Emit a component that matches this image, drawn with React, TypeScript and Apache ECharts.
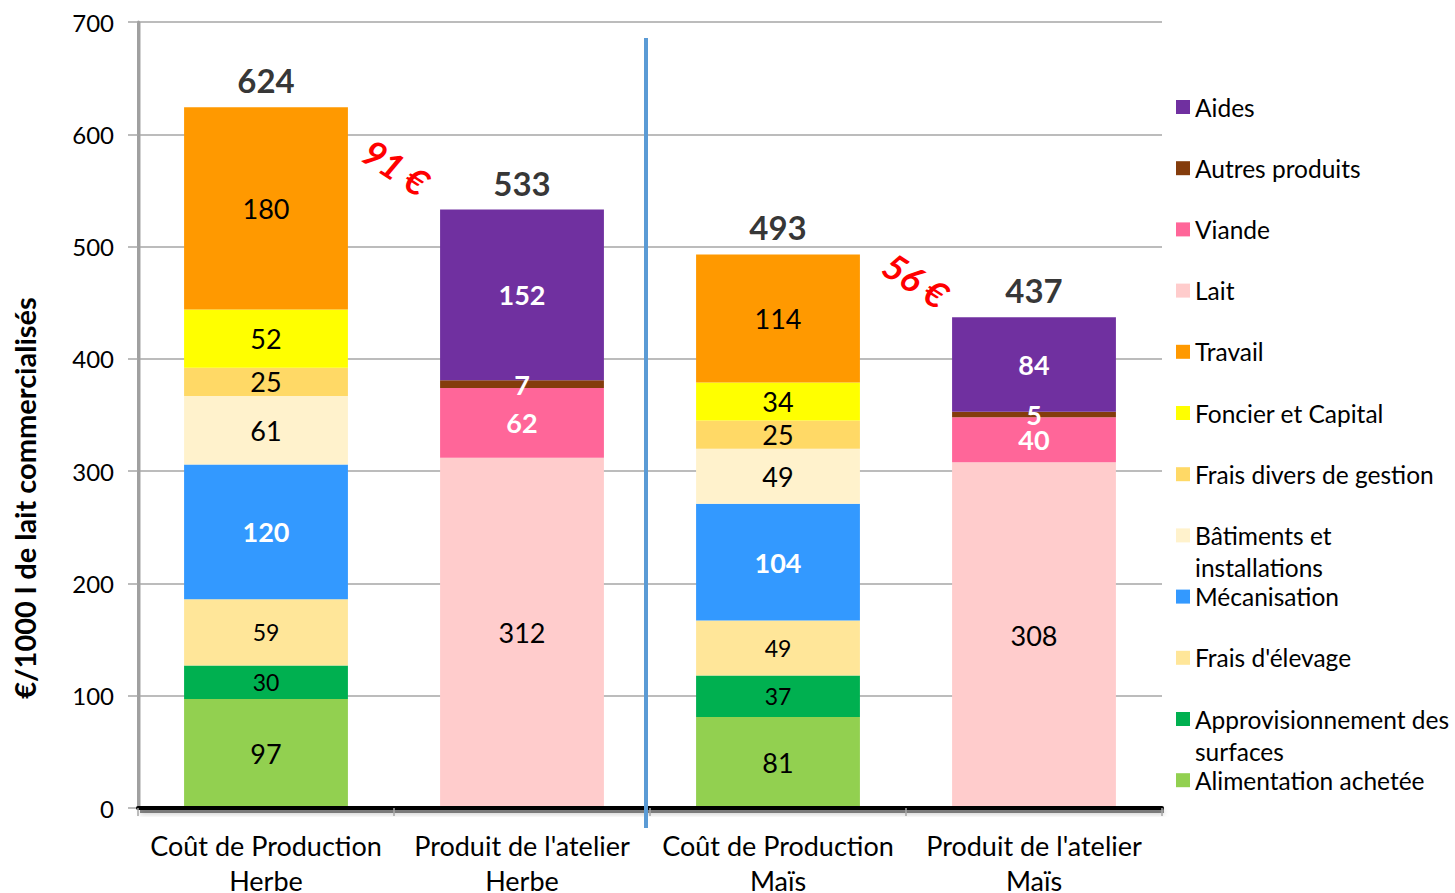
import React, { useEffect, useRef } from "react";
import * as echarts from "echarts";

const FONT = "Lato, 'Open Sans', sans-serif";

const categories = [
  "Coût de Production\nHerbe",
  "Produit de l'atelier\nHerbe",
  "Coût de Production\nMaïs",
  "Produit de l'atelier\nMaïs",
];

// stack order bottom -> top
const alimentation = [97, "-", 81, "-"];
const approvisionnement = [30, "-", 37, "-"];
const fraisElevage = [59, "-", 49, "-"];
const mecanisation = [120, "-", 104, "-"];
const batiments = [61, "-", 49, "-"];
const fraisDivers = [25, "-", 25, "-"];
const foncier = [52, "-", 34, "-"];
const travail = [180, "-", 114, "-"];
const lait = ["-", 312, "-", 308];
const viande = ["-", 62, "-", 40];
const autresProduits = ["-", 7, "-", 5];
const aides = ["-", 152, "-", 84];

const totals = [624, 533, 493, 437];

const yTicks = { min: 0, max: 700, interval: 100 };

const annotations = [
  { text: "91 €", x: 396, y: 167 },
  { text: "56 €", x: 916, y: 280 },
];

type S = {
  name: string;
  data: (number | string)[];
  color: string;
  labelColor: string;
  bold: boolean;
  small: boolean;
};

const seriesDefs: S[] = [
  { name: "Alimentation achetée", data: alimentation, color: "#92D050", labelColor: "#000", bold: false, small: false },
  { name: "Approvisionnement des surfaces", data: approvisionnement, color: "#00B050", labelColor: "#000", bold: false, small: true },
  { name: "Frais d'élevage", data: fraisElevage, color: "#FFE699", labelColor: "#000", bold: false, small: true },
  { name: "Mécanisation", data: mecanisation, color: "#3399FF", labelColor: "#fff", bold: true, small: false },
  { name: "Bâtiments et installations", data: batiments, color: "#FFF2CC", labelColor: "#000", bold: false, small: false },
  { name: "Frais divers de gestion", data: fraisDivers, color: "#FFD966", labelColor: "#000", bold: false, small: false },
  { name: "Foncier et Capital", data: foncier, color: "#FFFF00", labelColor: "#000", bold: false, small: false },
  { name: "Travail", data: travail, color: "#FF9900", labelColor: "#000", bold: false, small: false },
  { name: "Lait", data: lait, color: "#FFCCCC", labelColor: "#000", bold: false, small: false },
  { name: "Viande", data: viande, color: "#FF6699", labelColor: "#fff", bold: true, small: false },
  { name: "Autres produits", data: autresProduits, color: "#843C0C", labelColor: "#fff", bold: true, small: false },
  { name: "Aides", data: aides, color: "#7030A0", labelColor: "#fff", bold: true, small: false },
];

const legendOrder = [
  "Aides",
  "Autres produits",
  "Viande",
  "Lait",
  "Travail",
  "Foncier et Capital",
  "Frais divers de gestion",
  "Bâtiments et installations",
  "Mécanisation",
  "Frais d'élevage",
  "Approvisionnement des surfaces",
  "Alimentation achetée",
];

const legendBreaks: Record<string, string> = {
  "Bâtiments et installations": "\nBâtiments et\ninstallations",
  "Approvisionnement des surfaces": "\nApprovisionnement des\nsurfaces",
};

export default function App() {
  const ref = useRef<HTMLDivElement>(null);

  useEffect(() => {
    if (!ref.current) return;
    const chart = echarts.init(ref.current, undefined, { renderer: "svg" });

    const barSeries = seriesDefs.map((s) => ({
      name: s.name,
      type: "bar",
      stack: "total",
      barWidth: "64%",
      data: s.data,
      itemStyle: { color: s.color },
      label: {
        show: true,
        position: "inside",
        color: s.labelColor,
        fontFamily: FONT,
        fontWeight: s.bold ? "bold" : "normal",
        fontSize: s.small ? 23 : 27,
      },
      emphasis: { disabled: true },
    }));

    const lineH = 32;
    const legends = legendOrder.map((name, i) => {
      const multi = !!legendBreaks[name];
      const iconY = 107 + i * 61.2;
      return {
        data: [name],
        orient: "vertical",
        left: 1176,
        top: multi ? iconY - (lineH * 3) / 2 : iconY - lineH / 2,
        padding: 0,
        itemGap: 0,
        itemWidth: 14,
        itemHeight: 14,
        icon: "rect",
        selectedMode: false,
        formatter: (n: string) => legendBreaks[n] || n,
        textStyle: {
          fontFamily: FONT,
          fontSize: 24.5,
          lineHeight: lineH,
          color: "#000",
        },
      };
    });

    chart.setOption({
      animation: false,
      backgroundColor: "#fff",
      textStyle: { fontFamily: FONT },
      grid: {
        left: 138,
        right: 293,
        top: 22,
        bottom: 85,
        containLabel: false,
        outerBoundsMode: "none",
      },
      legend: legends,
      xAxis: {
        type: "category",
        data: categories,
        z: 10,
        axisLine: {
          show: true,
          lineStyle: { color: "#000", width: 4 },
        },
        axisTick: { show: true, length: 8, lineStyle: { color: "#a6a6a6", width: 1.5 } },
        axisLabel: {
          fontFamily: FONT,
          fontSize: 27,
          color: "#000",
          lineHeight: 35,
          margin: 20,
          interval: 0,
        },
      },
      yAxis: {
        type: "value",
        min: yTicks.min,
        max: yTicks.max,
        interval: yTicks.interval,
        name: "€/1000 l de lait commercialisés",
        nameLocation: "middle",
        nameGap: 99,
        nameTextStyle: {
          fontFamily: FONT,
          fontSize: 29,
          fontWeight: "bold",
          color: "#000",
          padding: [0, 166, 0, 0],
        },
        axisLine: {
          show: true,
          lineStyle: { color: "#a0a0a0", width: 3 },
        },
        axisTick: { show: true, length: 10, lineStyle: { color: "#a6a6a6", width: 1.5 } },
        splitLine: { show: true, showMinLine: false, lineStyle: { color: "#a6a6a6", width: 1.5 } },
        axisLabel: { fontFamily: FONT, fontSize: 24, color: "#000", margin: 24 },
      },
      series: [
        ...barSeries,
        {
          name: "Total",
          type: "scatter",
          data: totals,
          symbolSize: 1,
          itemStyle: { color: "rgba(0,0,0,0)" },
          label: {
            show: true,
            position: "top",
            distance: 10,
            color: "#000",
            fontFamily: FONT,
            fontWeight: "bold",
            fontSize: 33,
          },
          emphasis: { disabled: true },
          z: 5,
        },
      ],
      graphic: [
        // soft shadow under the bottom axis line (3D look of the original)
        {
          type: "rect",
          shape: { x: 140, y: 809, width: 1024, height: 4 },
          style: {
            fill: "rgba(0,0,0,0.45)",
            shadowColor: "rgba(0,0,0,0.5)",
            shadowBlur: 5,
            shadowOffsetY: 1,
          },
          z: -1,
        },
        // soft shadow right of the left axis line
        {
          type: "rect",
          shape: { x: 139, y: 22, width: 2, height: 786 },
          style: { fill: "rgba(0,0,0,0.18)" },
          z: -1,
        },
        {
          type: "line",
          shape: { x1: 646, y1: 38, x2: 646, y2: 828 },
          style: { stroke: "#5B9BD5", lineWidth: 4 },
          z: 100,
        },
        ...annotations.map((a) => ({
          type: "text",
          x: a.x,
          y: a.y,
          rotation: (-33 * Math.PI) / 180,
          style: {
            text: a.text,
            fill: "#FF0000",
            fontFamily: FONT,
            fontSize: 36,
            fontWeight: "bold",
            fontStyle: "italic",
            align: "center",
            verticalAlign: "middle",
          },
          z: 100,
        })),
      ],
    });

    return () => chart.dispose();
  }, []);

  return (
    <div
      ref={ref}
      style={{ position: "absolute", left: 0, top: 0, width: 1455, height: 893 }}
    />
  );
}
